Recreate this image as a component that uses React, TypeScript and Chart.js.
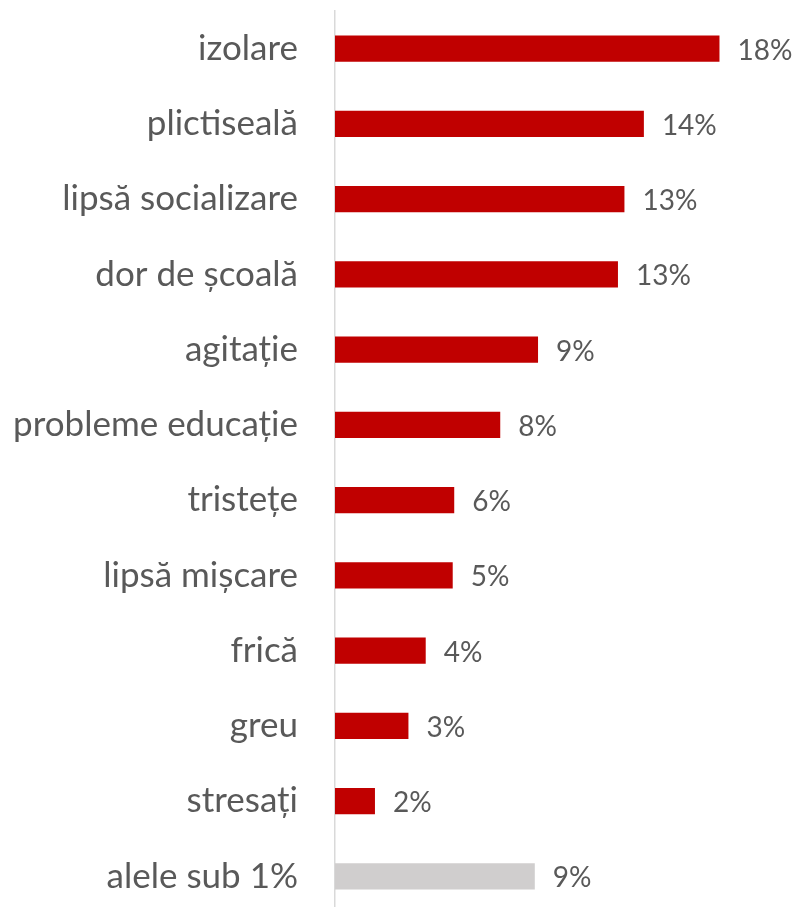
import React, { useEffect, useRef } from "react";
import { Chart, registerables } from "chart.js";

Chart.register(...registerables);

const categories = [
  "izolare",
  "plictiseală",
  "lipsă socializare",
  "dor de școală",
  "agitație",
  "probleme educație",
  "tristețe",
  "lipsă mișcare",
  "frică",
  "greu",
  "stresați",
  "alele sub 1%",
];

const values = [17.8, 14.3, 13.4, 13.1, 9.4, 7.65, 5.52, 5.45, 4.2, 3.4, 1.85, 9.25];

const valueLabels = ["18%", "14%", "13%", "13%", "9%", "8%", "6%", "5%", "4%", "3%", "2%", "9%"];

const RED = "#C00000";
const GREY = "#D0CECE";
const TEXT = "#595959";
const FONT = "Lato";

const barColors = categories.map((_, i) => (i === categories.length - 1 ? GREY : RED));

const dataLabelPlugin = {
  id: "dataLabelPlugin",
  afterDatasetsDraw(chart: any) {
    const ctx = chart.ctx;
    const meta = chart.getDatasetMeta(0);
    ctx.save();
    ctx.fillStyle = TEXT;
    ctx.font = `28px ${FONT}`;
    ctx.textAlign = "left";
    ctx.textBaseline = "middle";
    meta.data.forEach((el: any, i: number) => {
      ctx.fillText(valueLabels[i], el.x + 18, el.y + 2);
    });
    ctx.restore();
  },
};

export default function App() {
  const canvasRef = useRef<HTMLCanvasElement | null>(null);

  useEffect(() => {
    const canvas = canvasRef.current;
    if (!canvas) return;
    const chart = new Chart(canvas, {
      type: "bar",
      data: {
        labels: categories,
        datasets: [
          {
            data: values,
            backgroundColor: barColors,
            borderWidth: 0,
            barPercentage: 0.352,
            categoryPercentage: 1,
          },
        ],
      },
      options: {
        indexAxis: "y",
        responsive: false,
        animation: false,
        layout: { padding: { top: 11, bottom: 0, left: 0, right: 31 } },
        plugins: {
          legend: { display: false },
          tooltip: { enabled: false },
        },
        scales: {
          x: {
            display: false,
            min: 0,
            max: 20,
          },
          y: {
            afterFit: (scale: any) => {
              scale.width = 335;
              scale.paddingTop = 0;
              scale.paddingBottom = 0;
            },
            grid: { display: false, drawTicks: false },
            border: { display: true, color: "#D9D9D9", width: 1.5 },
            ticks: {
              color: TEXT,
              padding: 37,
              font: { family: FONT, size: 35 },
            },
          },
        },
      },
      plugins: [dataLabelPlugin],
    });
    return () => chart.destroy();
  }, []);

  return (
    <div style={{ position: "fixed", left: 0, top: 0, width: 798, height: 914, background: "#fff" }}>
      <canvas ref={canvasRef} width={798} height={914} style={{ width: 798, height: 914 }} />
    </div>
  );
}
